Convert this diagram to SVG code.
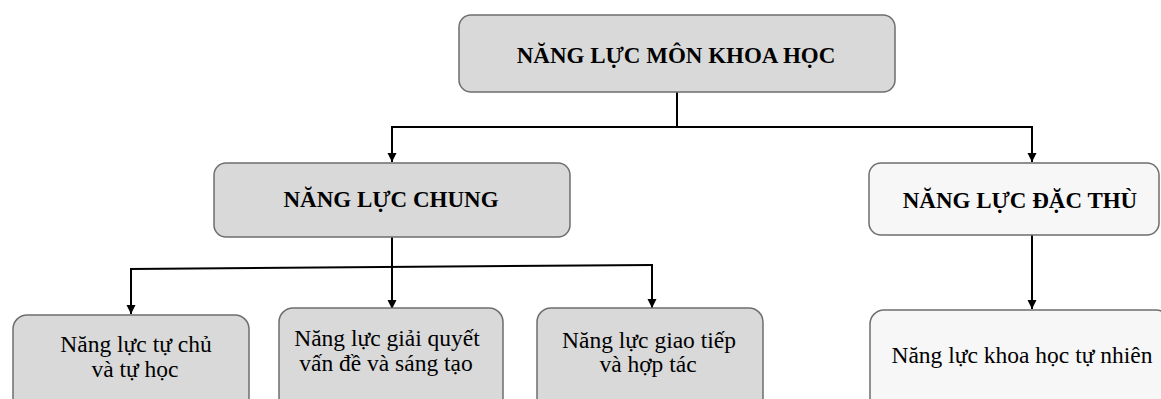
<svg xmlns="http://www.w3.org/2000/svg" width="1161" height="399" viewBox="0 0 1161 399">
<defs>
<marker id="arr" markerUnits="userSpaceOnUse" markerWidth="10" markerHeight="10" refX="9" refY="4.5" orient="auto">
<path d="M0,0 L9,4.5 L0,9 z" fill="#000"/>
</marker>
<style>
.grey{fill:#d9d9d9;stroke:#6e6e6e;stroke-width:1.5}
.light{fill:#f7f7f7;stroke:#6e6e6e;stroke-width:1.5}
.t{font-family:"Liberation Serif","Times New Roman",serif;fill:#000;text-anchor:middle}
.b{font-weight:bold;font-size:23px}
.r{font-size:23.5px}
.c{fill:none;stroke:#000;stroke-width:2}
</style>
</defs>
<rect width="1161" height="399" fill="#fff"/>
<g id="connectors">
<path class="c" d="M677,92 V127"/>
<path class="c" d="M391,127 H1033"/>
<path class="c" d="M392,127 V162" marker-end="url(#arr)"/>
<path class="c" d="M1032,127 V162" marker-end="url(#arr)"/>
<path class="c" d="M392,237 V309" marker-end="url(#arr)"/>
<path class="c" d="M130,269 L653,265"/>
<path class="c" d="M131,269 V314" marker-end="url(#arr)"/>
<path class="c" d="M652,265 V308" marker-end="url(#arr)"/>
<path class="c" d="M1032,235 V309" marker-end="url(#arr)"/>
</g>
<g id="n-khoahoc">
<rect class="grey" x="459" y="15" width="436" height="77" rx="12"/>
<text class="t b" x="676" y="63">NĂNG LỰC MÔN KHOA HỌC</text>
</g>
<g id="n-chung">
<rect class="grey" x="214" y="163" width="356" height="74" rx="12"/>
<text class="t b" x="391" y="207">NĂNG LỰC CHUNG</text>
</g>
<g id="n-dacthu">
<rect class="light" x="869" y="163" width="290" height="72" rx="12"/>
<text class="t b" x="1020" y="208">NĂNG LỰC ĐẶC THÙ</text>
</g>
<g id="n-tuchu">
<rect class="grey" x="13" y="315" width="236" height="100" rx="14"/>
<text class="t r" x="136" y="352">Năng lực tự chủ</text>
<text class="t r" x="135" y="377">và tự học</text>
</g>
<g id="n-giaiquyet">
<rect class="grey" x="279" y="308" width="224" height="105" rx="14"/>
<text class="t r" x="387" y="346">Năng lực giải quyết</text>
<text class="t r" x="386" y="371">vấn đề và sáng tạo</text>
</g>
<g id="n-giaotiep">
<rect class="grey" x="537" y="308" width="226" height="105" rx="14"/>
<text class="t r" x="649" y="348">Năng lực giao tiếp</text>
<text class="t r" x="648" y="372">và hợp tác</text>
</g>
<g id="n-tunhien">
<rect class="light" x="870" y="310" width="300" height="105" rx="14"/>
<text class="t r" x="1022" y="363">Năng lực khoa học tự nhiên</text>
</g>
</svg>
